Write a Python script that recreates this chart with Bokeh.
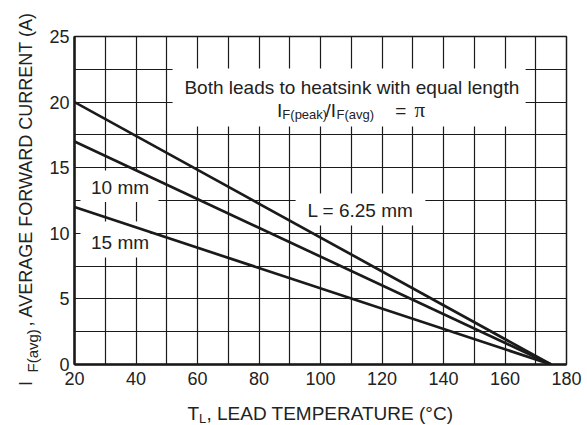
from bokeh.plotting import figure
from bokeh.models import Range1d, FixedTicker, Label, BoxAnnotation
from bokeh.embed import file_html
from bokeh.resources import INLINE
import math

# ---------------- data ----------------
lead_temp = [20, 175]                 # T_L (deg C)
i_avg_625mm = [20.0, 0.0]             # L = 6.25 mm
i_avg_10mm = [17.0, 0.0]              # L = 10 mm
i_avg_15mm = [12.0, 0.0]              # L = 15 mm

x_tick_labels = [20, 40, 60, 80, 100, 120, 140, 160, 180]
y_tick_labels = [0, 5, 10, 15, 20, 25]
x_grid = [20, 30, 40, 50, 60, 70, 80, 90, 100, 110, 120, 130, 140, 150, 160, 170, 180]
y_grid = [0, 2.5, 5, 7.5, 10, 12.5, 15, 17.5, 20, 22.5, 25]

FONT = "Liberation Sans"
INK = "#1a1a1a"

p = figure(width=587, height=425, x_range=Range1d(20, 180), y_range=Range1d(0, 25),
           output_backend="svg", toolbar_location=None,
           min_border_left=74, min_border_right=21, min_border_top=36, min_border_bottom=61)
p.background_fill_color = "white"
p.border_fill_color = "white"
p.outline_line_color = INK
p.outline_line_width = 1.5

for ax, ticks in ((p.xaxis, x_tick_labels), (p.yaxis, y_tick_labels)):
    ax.ticker = FixedTicker(ticks=ticks)
    ax.major_label_text_font = FONT
    ax.major_label_text_font_size = "18px"
    ax.major_label_text_color = "#222222"
    ax.axis_line_width = 2.5
    ax.axis_line_color = INK
    ax.major_tick_line_color = None
    ax.minor_tick_line_color = None
    ax.major_tick_out = 0
    ax.major_tick_in = 0
p.xaxis.major_label_standoff = 7
p.yaxis.major_label_standoff = 5

p.xgrid.ticker = FixedTicker(ticks=x_grid)
p.ygrid.ticker = FixedTicker(ticks=y_grid)
for g in (p.xgrid, p.ygrid):
    g.grid_line_color = INK
    g.grid_line_width = 1.2
    g.grid_line_alpha = 1.0
    g.level = "image"

# white backgrounds behind the in-plot texts (left, right, bottom, top)
label_boxes = [
    (51.9, 166.7, 18.14, 22.56),
    (21.95, 47.3, 12.39, 14.79),
    (21.95, 44.7, 8.16, 10.90),
    (91.9, 134.1, 10.59, 13.03),
]
for l, r, b, t in label_boxes:
    p.add_layout(BoxAnnotation(left=l, right=r, bottom=b, top=t, fill_color="white",
                               fill_alpha=1.0, line_color=None, level="underlay"))

for ys in (i_avg_625mm, i_avg_10mm, i_avg_15mm):
    p.line(lead_temp, ys, line_color=INK, line_width=2.7)


def mk(x, y, text, size="19px", align="left", angle=0.0, font=FONT):
    return Label(x=x, y=y, text=text, text_font=font, text_font_size=size,
                 text_color="#222222", text_align=align, text_baseline="alphabetic",
                 angle=angle)


def lab(*a, **kw):
    p.add_layout(mk(*a, **kw))


# in-plot annotations
lab(110.2, 21.15, "Both leads to heatsink with equal length", align="center")
lab(85.85, 19.36, "I")
lab(87.6, 19.02, "F(peak)", size="13px")
lab(101.6, 19.36, "/I")
lab(105.2, 19.02, "F(avg)", size="13px")
lab(124.3, 19.36, "=")
lab(130.6, 19.36, "\u03c0", size="21px", font="Liberation Serif")
lab(34.8, 13.49, "10 mm", align="center")
lab(34.8, 9.30, "15 mm", align="center")
lab(113.0, 11.70, "L = 6.25 mm", align="center")

# axis titles: placed by data coordinates, hosted in the side panels
# (side panels are not clipped to the frame); spread over the four sides so
# that no border grows beyond its min_border.
rot = math.pi / 2
p.add_layout(mk(62.9, -3.77, ", LEAD TEMPERATURE (\u00b0C)"), "below")
p.add_layout(mk(56.75, -3.77, "T"), "above")
p.add_layout(mk(60.52, -4.11, "L", size="13px"), "left")
p.add_layout(mk(4.39, 2.90, ", AVERAGE FORWARD CURRENT (A)", size="18px", angle=rot), "left")
p.add_layout(mk(4.39, -1.64, "I", size="18px", angle=rot), "above")
p.add_layout(mk(6.50, -0.61, "F(avg)", size="15px", angle=rot), "right")

open("out.html", "w").write(file_html(p, INLINE))
